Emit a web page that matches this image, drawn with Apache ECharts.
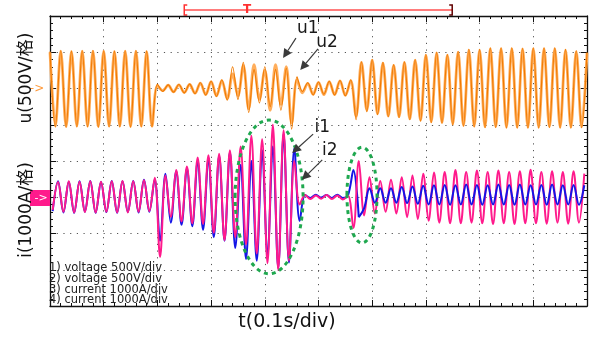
<!DOCTYPE html>
<html><head><meta charset="utf-8">
<script src="https://cdn.jsdelivr.net/npm/echarts@6/dist/echarts.min.js"></script>
<style>html,body{margin:0;padding:0;background:#fff}#c{width:589px;height:337px}</style>
</head><body><div id="c"></div>
<script>
// time step between stored samples (s); each sample is a read peak/trough
const timeStep = 0.01;
const voltageStart = 0;
const currentStart = 0.005;
const voltPerDiv = 500, ampPerDiv = 1000;
const voltOffsetDiv = 6, curOffsetDiv = 3;

// voltage u1 (V)
const u1 = [510,-530,520,-535,515,-530,520,-530,525,-535,520,-530,515,-530,520,-535,520,-530,515,-530,
  60,-40,50,-50,55,-60,60,-70,80,-90,100,-110,120,-160,
  300,-150,360,-330,260,-200,300,-250,260,-300,280,-560,160,-40,
  80,-90,90,-80,100,-90,110,-100,120,
  -430,370,-320,400,-360,360,-390,330,-400,370,-430,400,-450,470,-470,500,-480,470,-500,510,-520,540,-530,540,-540,560,-540,560,-545,560,-545,555,-545,560,-545,560,-540,560,-545,540,-545,520,-540,500];
// voltage u2 (V)
const u2 = [500,-520,515,-525,510,-520,515,-520,515,-525,515,-520,510,-520,515,-525,515,-520,510,-520,
  40,-30,45,-45,50,-55,55,-65,75,-85,95,-100,110,-140,
  200,-100,320,-280,330,-150,250,-300,330,-220,300,-480,120,-60,
  70,-80,85,-85,95,-85,105,-95,110,
  -380,360,-300,390,-350,350,-380,320,-390,360,-420,390,-440,460,-460,490,-470,460,-490,500,-510,530,-520,530,-530,550,-530,550,-535,550,-535,545,-535,550,-535,550,-530,550,-535,530,-535,510,-530,490];
// current i1 (A), blue
const i1 = [-380,440,-420,430,-430,440,-400,450,-430,420,-410,450,-430,440,-410,450,-420,480,-400,500,
  -1200,650,-700,720,-760,800,-800,1000,-900,1050,-1100,1150,-1200,1250,
  -1400,900,-1700,1000,-1750,1300,-1600,1400,-1950,1750,-1800,1350,-650,
  60,-20,70,-10,60,-20,70,-20,60,
  750,-550,
  -300,250,-150,250,-150,250,-150,280,-160,300,-180,320,-200,330,-200,340,-210,330,-200,350,-200,340,-210,330,-200,350,-200,340,-210,350,-200,330,-200,340,-210,350,-200,330,-200,340,-210,330];
// current i2 (A), magenta
const i2 = [-350,420,-400,440,-420,430,-410,440,-420,430,-400,440,-420,450,-420,440,-400,470,-380,540,
  -1650,600,-540,750,-670,850,-720,1100,-740,1160,-980,1200,-1190,1300,
  -1100,1400,-1300,1700,-1550,1600,-1820,2000,-2000,1850,-1750,1000,-200,
  60,-50,50,-40,60,-50,50,-60,40,
  -850,1000,
  -500,550,-450,450,-400,480,-450,550,-550,600,-600,650,-650,680,-700,700,-720,750,-720,700,-700,740,-720,700,-740,740,-720,700,-740,720,-720,760,-720,700,-730,720,-700,700,-730,720,-700,650];

const legendLines = ['1) voltage 500V/div','2) voltage 500V/div','3) current 1000A/div','4) current 1000A/div'];
const yTitleU = 'u(500V/格)';
const yTitleI = 'i(1000A/格)';
const xTitle = 't(0.1s/div)';
// annotation anchors in (time s, division) coordinates
const ellipses = [{t:0.408,d:3.01,rt:0.0633,rd:2.12},{t:0.581,d:3.06,rt:0.028,rd:1.32}];
const arrows = [
  {text:'u1', lt:0.480, ld:7.64, ft:0.458, fd:7.39, tt:0.434, td:6.84},
  {text:'u2', lt:0.516, ld:7.28, ft:0.499, fd:7.09, tt:0.466, td:6.51},
  {text:'i1', lt:0.507, ld:4.91, ft:0.490, fd:4.74, tt:0.451, td:4.22},
  {text:'i2', lt:0.521, ld:4.28, ft:0.507, fd:4.03, tt:0.469, td:3.48}
];
const trigger = {from:0.25, to:0.749, mark:0.367};

function toSeries(arr, start, perDiv, offset, first) {
  first = first || 0;
  return arr.map((v,k)=>[+(start+(k+first)*timeStep).toFixed(4), v/perDiv+offset]);
}
const FONT = '"DejaVu Sans","Noto Sans CJK SC",sans-serif';
const chart = echarts.init(document.getElementById('c'));
const axisCommon = {
  axisLine:{show:true,onZero:false,lineStyle:{color:'#111',width:1.3}},
  axisTick:{show:true,inside:true,length:6,lineStyle:{color:'#111'}},
  minorTick:{show:true,splitNumber:5,length:3,lineStyle:{color:'#111'}},
  axisLabel:{show:false}
};
const dotted = {show:true,lineStyle:{color:'#555',width:1,type:[1.2,5.5]}};
const SM = 0.35;
chart.setOption({
  animation:false,
  grid:{left:50,top:16,right:2,bottom:31},
  xAxis:[
    Object.assign({type:'value',min:0,max:1,interval:0.1,position:'bottom',splitLine:dotted},axisCommon),
    Object.assign({type:'value',min:0,max:1,interval:0.1,position:'top',splitLine:{show:false}},axisCommon)
  ],
  yAxis:[
    Object.assign({type:'value',min:0,max:8,interval:1,position:'left',splitLine:dotted},axisCommon),
    Object.assign({type:'value',min:0,max:8,interval:1,position:'right',splitLine:{show:false}},axisCommon)
  ],
  series:[
    {type:'line',name:'u2',showSymbol:false,smooth:SM,data:toSeries(u2,voltageStart,voltPerDiv,voltOffsetDiv),lineStyle:{color:'#ffae5c',width:2.8},z:2},
    {type:'line',name:'u1',showSymbol:false,smooth:SM,data:toSeries(u1,voltageStart,voltPerDiv,voltOffsetDiv),lineStyle:{color:'#f07a00',width:1.1},z:3},
    {type:'line',name:'i1a',showSymbol:false,smooth:SM,data:toSeries(i1.slice(0,58),currentStart,ampPerDiv,curOffsetDiv),lineStyle:{color:'#1414e6',width:2},z:4},
    {type:'line',name:'i2',showSymbol:false,smooth:SM,data:toSeries(i2,currentStart,ampPerDiv,curOffsetDiv),lineStyle:{color:'#ff1a8c',width:2},z:5},
    {type:'line',name:'i1b',showSymbol:false,smooth:SM,data:toSeries(i1.slice(57),currentStart,ampPerDiv,curOffsetDiv,57),lineStyle:{color:'#1414e6',width:2},z:6}
  ]
});

const P = (t,d)=>chart.convertToPixel({xAxisIndex:0,yAxisIndex:0},[t,d]);
const g = [];
ellipses.forEach(e=>{
  const c = P(e.t,e.d), r = P(e.t+e.rt,e.d+e.rd);
  g.push({type:'ellipse',shape:{cx:c[0],cy:c[1],rx:Math.abs(r[0]-c[0]),ry:Math.abs(r[1]-c[1])},
    style:{fill:null,stroke:'#1fa84f',lineWidth:3,lineDash:[4,4]},z:100});
});
arrows.forEach(a=>{
  const l=P(a.lt,a.ld), f=P(a.ft,a.fd), tp=P(a.tt,a.td);
  const dx=tp[0]-f[0], dy=tp[1]-f[1], len=Math.hypot(dx,dy), ux=dx/len, uy=dy/len;
  const hl=9, hw=4.5, bx=tp[0]-ux*hl, by=tp[1]-uy*hl;
  g.push({type:'line',shape:{x1:f[0],y1:f[1],x2:bx,y2:by},style:{stroke:'#3a3a3a',lineWidth:1.2},z:101});
  g.push({type:'polygon',shape:{points:[[tp[0],tp[1]],[bx-uy*hw,by+ux*hw],[bx+uy*hw,by-ux*hw]]},style:{fill:'#3a3a3a'},z:101});
  g.push({type:'text',x:l[0],y:l[1],style:{text:a.text,font:'17px '+FONT,fill:'#1a1a1a',align:'center',verticalAlign:'middle'},z:102});
});
const ta=P(trigger.from,0)[0], tb=P(trigger.to,0)[0], tm=P(trigger.mark,0)[0];
g.push({type:'line',shape:{x1:ta,y1:10,x2:tb,y2:10},style:{stroke:'#ff5050',lineWidth:1.5}});
g.push({type:'polyline',shape:{points:[[ta+3,5],[ta,5],[ta,15],[ta+3,15]]},style:{stroke:'#ff3030',lineWidth:1.5,fill:null}});
g.push({type:'polyline',shape:{points:[[tb-3,5],[tb,5],[tb,15],[tb-3,15]]},style:{stroke:'#600000',lineWidth:1.5,fill:null}});
g.push({type:'text',x:tm,y:10,style:{text:'T',font:'bold 12px '+FONT,fill:'#ff3030',align:'center',verticalAlign:'middle'}});
g.push({type:'text',x:27,y:78,rotation:Math.PI/2,style:{text:yTitleU,font:'17px '+FONT,fill:'#111',align:'center',verticalAlign:'middle'},z:50});
g.push({type:'rect',shape:{x:30,y:190,width:20,height:16},style:{fill:'#ff1a8c'},z:40});
g.push({type:'text',x:41,y:198,style:{text:'->',font:'11px '+FONT,fill:'#fff',align:'center',verticalAlign:'middle'},z:41});
g.push({type:'text',x:37,y:89,style:{text:'->',font:'12px '+FONT,fill:'#ff9a3c',align:'center',verticalAlign:'middle'},z:41});
g.push({type:'text',x:27,y:210,rotation:Math.PI/2,style:{text:yTitleI,font:'17px '+FONT,fill:'#111',align:'center',verticalAlign:'middle'},z:50});
g.push({type:'text',x:287,y:322,style:{text:xTitle,font:'19px '+FONT,fill:'#111',align:'center',verticalAlign:'middle'}});
legendLines.forEach((s,k)=>{
  g.push({type:'text',x:49,y:268+k*10.8,style:{text:s,font:'11.5px "DejaVu Sans",sans-serif',fill:'#222',align:'left',verticalAlign:'middle'},z:60});
});
chart.setOption({graphic:g});
</script></body></html>
